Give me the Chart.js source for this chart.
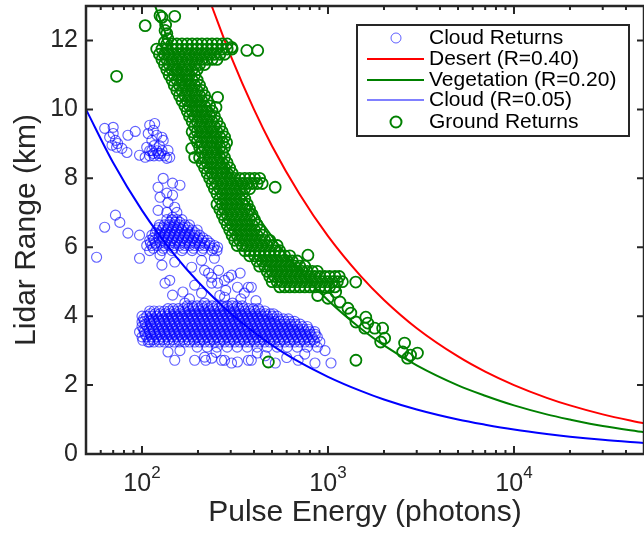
<!DOCTYPE html>
<html>
<head>
<meta charset="utf-8">
<script src="https://cdn.jsdelivr.net/npm/chart.js@4.4.0/dist/chart.umd.min.js"></script>
<style>
  body { margin: 0; background: #fff; }
</style>
</head>
<body>
<canvas id="lidarChart" width="644" height="535"></canvas>
<script>
// returns: [pulse energy (photons), lidar range (km)]
const cloudScatter = [
  // upper left group
  [63,9.45],[70,9.48],[70,9.30],[72,9.10],[67,9.19],[74,9.01],[73,8.90],[69,8.96],[84,9.25],[92,9.36],[83,8.75],[78,8.87],
  [110,9.54],[117,9.59],[115,9.39],[120,9.25],[108,9.30],[128,9.19],[130,9.10],[113,9.10],[106,8.90],[97,8.67],[138,8.81],[141,8.61],[136,8.58],[104,8.61],
  // middle group outskirts
  [130,8.0],[146,7.86],[160,7.8],[122,7.74],[136,7.57],[146,7.51],[125,7.45],[138,7.30],[150,7.16],[122,7.07],[136,7.01],[154,7.01],[146,6.87],
  [72,6.93],[76,6.72],[63,6.58],[84,6.41],[97,6.35],[57,5.71],[97,5.68],[125,5.77],[128,5.48],[150,5.57],[185,5.42],[217,5.33],[255,6.0],[245,5.68],
  // scatter above the low band
  [133,4.96],[141,5.04],[146,4.61],[166,4.70],[170,4.38],[192,4.90],[209,4.67],[237,5.13],[255,4.96],[278,5.04],[303,5.19],[326,4.84],[355,4.67],[387,4.84],[278,4.55],[217,4.38],[307,4.38],
  [209,5.62],[228,5.25],[258,5.33],[292,5.13],[337,5.25],[373,4.84],[282,4.75],[237,4.96],[180,4.5],[262,4.6],[340,4.5],[410,4.45],
  // scatter below the low band
  [220,2.72],[268,2.72],[303,2.64],[373,2.72],[521,2.64],[691,2.72],[851,2.64],[1038,2.64],[964,3.0],
  [100,3.83],[97,3.54],[101,3.30],[108,3.25],[138,2.96],[150,2.72],[192,2.72],[217,2.81],[237,2.78],[278,2.72],[326,2.67],[387,2.72],[417,2.93],
  [160,3.0],[250,2.95],[460,2.85],[600,2.8],[750,2.9]
];

// dense parts of the cloud returns, row by row: [range, energies]
const cloudRows = [
  [8.95, [116, 124]],
  [8.8, [110, 113, 120, 128]],
  [8.72, [115, 122, 126]],
  [8.65, [110, 116, 124, 132]],
  [6.8, [136, 145, 154, 164]],
  [6.72, [141, 150, 160]],
  [6.65, [124, 132, 140, 149, 159, 170, 180]],
  [6.57, [123, 130, 138, 147, 157, 167, 177]],
  [6.5, [120, 128, 136, 145, 154, 164, 175, 186, 198]],
  [6.42, [118, 125, 133, 141, 150, 160, 170, 181, 193]],
  [6.35, [113, 124, 132, 140, 149, 159, 170, 180, 192, 204]],
  [6.27, [115, 123, 130, 138, 147, 157, 167, 177, 189, 201, 213]],
  [6.2, [110, 116, 128, 136, 145, 154, 164, 175, 186, 198, 210, 224]],
  [6.12, [111, 118, 125, 133, 141, 150, 160, 170, 181, 193, 205, 218, 232]],
  [6.05, [106, 113, 120, 132, 140, 149, 159, 170, 180, 192, 204, 217, 231, 245]],
  [5.97, [115, 130, 147, 167, 189, 213, 242]],
  [5.9, [110, 128, 145, 164, 186, 210, 238, 253]],
  [4.3, [175, 186, 198, 210, 224, 238, 253, 270, 287, 305, 325, 346]],
  [4.22, [138, 147, 157, 167, 177, 189, 201, 213, 227, 242, 257, 274, 291, 310, 330, 351, 373, 397, 422]],
  [4.15, [110, 116, 124, 132, 140, 149, 159, 170, 180, 192, 204, 217, 231, 245, 262, 278, 296, 315, 335, 357, 379, 403, 429, 457]],
  [4.07, [111, 118, 125, 133, 141, 150, 160, 170, 181, 193, 205, 218, 232, 247, 263, 280, 298, 317, 337, 359, 382, 406, 432, 460, 489, 509]],
  [4.0, [100, 106, 113, 120, 128, 136, 145, 154, 164, 175, 186, 198, 210, 224, 238, 253, 270, 287, 305, 325, 346, 368, 391, 416, 443, 471, 501, 533]],
  [3.92, [102, 109, 115, 123, 130, 138, 147, 157, 167, 177, 189, 201, 213, 227, 242, 257, 274, 291, 310, 330, 351, 373, 397, 422, 449, 478, 509, 541, 576, 613]],
  [3.85, [103, 110, 116, 124, 132, 140, 149, 159, 170, 180, 192, 204, 217, 231, 245, 262, 278, 296, 315, 335, 357, 379, 403, 429, 457, 486, 517, 550, 585, 623, 662]],
  [3.77, [104, 111, 118, 125, 133, 141, 150, 160, 170, 181, 193, 205, 218, 232, 247, 263, 280, 298, 317, 337, 359, 382, 406, 432, 460, 489, 520, 553, 589, 627, 667, 709]],
  [3.7, [100, 106, 113, 120, 128, 136, 145, 154, 164, 175, 186, 198, 210, 224, 238, 253, 270, 287, 305, 325, 346, 368, 391, 416, 443, 471, 501, 533, 567, 604, 642, 683, 727, 773]],
  [3.62, [102, 109, 115, 123, 130, 138, 147, 157, 167, 177, 189, 201, 213, 227, 242, 257, 274, 291, 310, 330, 351, 373, 397, 422, 449, 478, 509, 541, 576, 613, 652, 693, 738, 785]],
  [3.55, [103, 110, 116, 124, 132, 140, 149, 159, 170, 180, 192, 204, 217, 231, 245, 262, 278, 296, 315, 335, 357, 379, 403, 429, 457, 486, 517, 550, 585, 623, 662, 705, 750, 798, 849]],
  [3.47, [104, 111, 118, 125, 133, 141, 150, 160, 170, 181, 193, 205, 218, 232, 247, 263, 280, 298, 317, 337, 359, 382, 406, 432, 460, 489, 520, 553, 589, 627, 667, 709, 755, 803, 855]],
  [3.4, [100, 106, 113, 120, 128, 136, 145, 154, 164, 175, 186, 198, 210, 224, 238, 253, 270, 287, 305, 325, 346, 368, 391, 416, 443, 471, 501, 533, 567, 604, 642, 683, 727, 773, 823, 876]],
  [3.32, [109, 115, 123, 130, 138, 147, 157, 167, 177, 189, 201, 213, 227, 242, 257, 274, 291, 310, 330, 351, 373, 397, 422, 449, 478, 509, 541, 576, 613, 652, 693, 738, 785, 835]],
  [3.25, [110, 116, 124, 132, 140, 149, 159, 170, 180, 192, 204, 217, 231, 245, 262, 278, 296, 315, 335, 357, 379, 403, 429, 457, 486, 517, 550, 585, 623, 662, 705, 750, 798, 849, 904]],
  [3.1, [198, 224, 253, 287, 325, 368, 416, 471, 533, 604, 683, 773, 876]]
];

const groundScatter = [
  // column near the top and outliers
  [104,12.43],[125,12.72],[128,12.67],[150,12.7],[133,12.29],[136,12.2],[134,12.45],[138,12.05],[132,11.95],[73,10.96],[303,11.8],[366,11.71],[419,11.71],
  [255,10.35],[250,10.06],[285,9.04],[185,8.87],[192,8.61],[520,7.74],[780,5.77],[1410,4.99],
  // tail along the vegetation curve
  [1000,4.52],[1160,4.41],[1280,4.23],[1327,4.09],[1413,3.83],[1597,3.97],[1636,3.80],[1577,3.65],[1783,3.65],[1967,3.65],[2017,3.36],[1920,3.25],
  [2581,3.22],[2520,2.96],[2677,2.78],[3027,2.93],[2780,2.87],[1413,2.72],[478,2.67],[880,4.6],[1100,4.7]
];

// dense parts of the ground returns, row by row: [range, energies]
const groundRows = [
  [11.9, [136, 145, 154, 164, 175, 186, 198, 210, 224, 238, 253, 270, 287]],
  [11.75, [120, 128, 136, 145, 154, 164, 175, 186, 198, 210, 224, 238, 253, 270, 287, 305]],
  [11.6, [124, 132, 140, 149, 159, 170, 180, 192, 204, 217, 231, 245, 262, 278]],
  [11.45, [128, 136, 145, 154, 164, 175, 186, 198, 210, 224, 238, 253]],
  [11.3, [132, 140, 149, 159, 170, 180, 192, 204, 217]],
  [11.15, [136, 145, 154, 164, 175, 186, 198]],
  [11.0, [140, 149, 159, 170, 180, 192]],
  [10.85, [145, 154, 164, 175, 186, 198]],
  [10.7, [149, 159, 170, 180, 192, 204]],
  [10.55, [154, 164, 175, 186, 198, 210]],
  [10.4, [159, 170, 180, 192, 204, 217]],
  [10.25, [164, 175, 186, 198, 210, 224]],
  [10.1, [170, 180, 192, 204, 217, 231]],
  [9.95, [175, 186, 198, 210, 224, 238]],
  [9.8, [180, 192, 204, 217, 231, 245]],
  [9.65, [186, 198, 210, 224, 238, 253]],
  [9.5, [192, 204, 217, 231, 245, 262]],
  [9.35, [186, 198, 210, 224, 238, 253, 270]],
  [9.2, [192, 204, 217, 231, 245, 262, 278]],
  [9.05, [198, 210, 224, 238, 253, 270]],
  [8.9, [204, 217, 231, 245, 262, 278]],
  [8.75, [210, 224, 238, 253, 270]],
  [8.6, [204, 217, 231, 245, 262, 278]],
  [8.45, [210, 224, 238, 253, 270, 287]],
  [8.3, [217, 231, 245, 262, 278, 296]],
  [8.15, [224, 238, 253, 270, 287, 305]],
  [8.0, [231, 245, 262, 278, 296, 315, 335, 357, 379, 403, 429]],
  [7.85, [238, 253, 270, 287, 305, 325, 346, 368, 391, 416, 443]],
  [7.7, [245, 262, 278, 296, 315, 335, 357, 379]],
  [7.55, [253, 270, 287, 305, 325, 346]],
  [7.4, [262, 278, 296, 315, 335, 357]],
  [7.25, [253, 270, 287, 305, 325, 346, 368]],
  [7.1, [262, 278, 296, 315, 335, 357, 379]],
  [6.95, [270, 287, 305, 325, 346, 368, 391]],
  [6.8, [278, 296, 315, 335, 357, 379, 403]],
  [6.65, [287, 305, 325, 346, 368, 391, 416]],
  [6.5, [296, 315, 335, 357, 379, 403, 429]],
  [6.35, [305, 325, 346, 368, 391, 416, 443]],
  [6.2, [315, 335, 357, 379, 403, 429, 457, 486]],
  [6.05, [325, 346, 368, 391, 416, 443, 471, 501, 533]],
  [5.9, [357, 379, 403, 429, 457, 486, 517, 550]],
  [5.75, [379, 403, 429, 457, 486, 517, 550, 585, 623]],
  [5.6, [416, 443, 471, 501, 533, 567, 604, 642, 683]],
  [5.45, [429, 457, 486, 517, 550, 585, 623, 662, 705, 750]],
  [5.3, [471, 501, 533, 567, 604, 642, 683, 727, 773, 823, 876]],
  [5.15, [486, 517, 550, 585, 623, 662, 705, 750, 798, 849, 904, 962, 1020, 1090, 1150]],
  [5.0, [501, 533, 567, 604, 642, 683, 727, 773, 823, 876, 932, 992, 1055, 1123, 1195]],
  [4.85, [550, 585, 623, 662, 705, 750, 798, 849, 904, 962, 1020, 1090]]
];

// model curves
const desertEnergy = [237, 300, 400, 500, 700, 1000, 1500, 2000, 3000, 5000, 7000, 10000, 15000, 20000, 30000, 50000];
const desertRange = [13.0, 11.55, 10.0, 8.94, 7.56, 6.32, 5.16, 4.47, 3.65, 2.83, 2.39, 2.0, 1.63, 1.41, 1.15, 0.89];
const vegEnergy = [118, 150, 200, 300, 400, 500, 700, 1000, 1500, 2000, 3000, 5000, 7000, 10000, 15000, 20000, 30000, 50000];
const vegRange = [12.98, 11.51, 9.97, 8.14, 7.05, 6.31, 5.33, 4.46, 3.64, 3.15, 2.57, 1.99, 1.69, 1.41, 1.15, 1.0, 0.81, 0.63];
const cloudEnergy = [50, 70, 100, 150, 200, 300, 500, 700, 1000, 1500, 2000, 3000, 5000, 7000, 10000, 15000, 20000, 30000, 50000];
const cloudRange = [10.0, 8.45, 7.07, 5.77, 5.0, 4.08, 3.16, 2.67, 2.24, 1.83, 1.58, 1.29, 1.0, 0.85, 0.71, 0.58, 0.5, 0.41, 0.32];

const yTicks = [0, 2, 4, 6, 8, 10, 12];
const xMajor = [100, 1000, 10000];
const xExp = ['2', '3', '4'];
const xMinor = [60, 70, 80, 90, 200, 300, 400, 500, 600, 700, 800, 900,
  2000, 3000, 4000, 5000, 6000, 7000, 8000, 9000, 20000, 30000, 40000];

const legendNames = ['Cloud Returns', 'Desert (R=0.40)', 'Vegetation (R=0.20)', 'Cloud (R=0.05)', 'Ground Returns'];

const FONT = '"Liberation Sans", Arial, Helvetica, sans-serif';
const AXIS = '#262626';
const CLOUD_MARK = 'rgba(0,0,255,0.62)';
const toXY = (xs, ys) => xs.map((e, i) => ({ x: e, y: ys[i] }));
const pairs = arr => arr.map(p => ({ x: p[0], y: p[1] }));
const fromRows = rows => rows.flatMap(([r, es]) => es.map(e => ({ x: e, y: r })));

// matlab style box, inward ticks, x labels with exponents, legend
const decorations = {
  id: 'decorations',
  afterDraw(chart) {
    const { ctx, chartArea: a, scales: { x, y } } = chart;
    ctx.save();
    ctx.strokeStyle = AXIS;
    ctx.lineWidth = 2;
    ctx.beginPath();
    xMajor.forEach(v => {
      const px = x.getPixelForValue(v);
      ctx.moveTo(px, a.bottom); ctx.lineTo(px, a.bottom - 8);
      ctx.moveTo(px, a.top); ctx.lineTo(px, a.top + 8);
    });
    xMinor.forEach(v => {
      const px = x.getPixelForValue(v);
      ctx.moveTo(px, a.bottom); ctx.lineTo(px, a.bottom - 4);
      ctx.moveTo(px, a.top); ctx.lineTo(px, a.top + 4);
    });
    yTicks.forEach(v => {
      const py = y.getPixelForValue(v);
      ctx.moveTo(a.left, py); ctx.lineTo(a.left + 7, py);
      ctx.moveTo(a.right, py); ctx.lineTo(a.right - 7, py);
    });
    ctx.stroke();
    ctx.lineWidth = 2.5;
    ctx.strokeRect(a.left, a.top, a.right - a.left, a.bottom - a.top);

    ctx.fillStyle = AXIS;
    ctx.textBaseline = 'alphabetic';
    xMajor.forEach((v, i) => {
      const px = x.getPixelForValue(v);
      ctx.font = '25px ' + FONT;
      const w1 = ctx.measureText('10').width;
      ctx.font = '17px ' + FONT;
      const w2 = ctx.measureText(xExp[i]).width;
      const x0 = px - (w1 + w2) / 2;
      ctx.font = '25px ' + FONT;
      ctx.fillText('10', x0, 491);
      ctx.font = '17px ' + FONT;
      ctx.fillText(xExp[i], x0 + w1, 478);
    });

    // legend
    const lx = 357, ly = 25, lw = 272, lh = 111;
    ctx.fillStyle = '#fff';
    ctx.fillRect(lx, ly, lw, lh);
    ctx.lineWidth = 2;
    ctx.strokeStyle = AXIS;
    ctx.strokeRect(lx, ly, lw, lh);
    const rows = [38, 59, 80, 100, 122];
    const lineColors = [null, '#ff0000', '#008000', '#8080ff', null];
    rows.forEach((ry, i) => {
      if (i === 0) {
        ctx.strokeStyle = CLOUD_MARK;
        ctx.lineWidth = 1;
        ctx.beginPath(); ctx.arc(396, ry, 5, 0, Math.PI * 2); ctx.stroke();
      } else if (i === 4) {
        ctx.strokeStyle = '#008000';
        ctx.lineWidth = 2;
        ctx.beginPath(); ctx.arc(396, ry, 5.5, 0, Math.PI * 2); ctx.stroke();
      } else {
        ctx.strokeStyle = lineColors[i];
        ctx.lineWidth = 2;
        ctx.beginPath(); ctx.moveTo(367, ry); ctx.lineTo(424, ry); ctx.stroke();
      }
      ctx.fillStyle = '#000';
      ctx.font = '21px ' + FONT;
      ctx.textBaseline = 'middle';
      ctx.fillText(legendNames[i], 429, ry);
    });
    ctx.restore();
  }
};

new Chart(document.getElementById('lidarChart'), {
  type: 'scatter',
  data: {
    datasets: [
      {
        label: legendNames[4], data: pairs(groundScatter).concat(fromRows(groundRows)), order: 0,
        pointStyle: 'circle', pointRadius: 5.5, pointBorderWidth: 1.8,
        pointBorderColor: '#008000', pointBackgroundColor: 'rgba(0,0,0,0)'
      },
      {
        label: legendNames[1], type: 'line', data: toXY(desertEnergy, desertRange), order: 1,
        showLine: true, borderColor: '#ff0000', borderWidth: 2, pointRadius: 0, cubicInterpolationMode: 'monotone'
      },
      {
        label: legendNames[2], type: 'line', data: toXY(vegEnergy, vegRange), order: 1,
        showLine: true, borderColor: '#008000', borderWidth: 2, pointRadius: 0, cubicInterpolationMode: 'monotone'
      },
      {
        label: legendNames[3], type: 'line', data: toXY(cloudEnergy, cloudRange), order: 1,
        showLine: true, borderColor: '#0000ff', borderWidth: 2, pointRadius: 0, cubicInterpolationMode: 'monotone'
      },
      {
        label: legendNames[0], data: pairs(cloudScatter).concat(fromRows(cloudRows)), order: 2,
        pointStyle: 'circle', pointRadius: 5, pointBorderWidth: 1.15,
        pointBorderColor: CLOUD_MARK, pointBackgroundColor: 'rgba(0,0,0,0)'
      }
    ]
  },
  options: {
    responsive: false,
    animation: false,
    events: [],
    layout: { autoPadding: false, padding: { top: 6, right: -2, bottom: 0, left: 0 } },
    plugins: { legend: { display: false }, tooltip: { enabled: false } },
    scales: {
      x: {
        type: 'logarithmic', min: 50, max: 50000,
        grid: { display: false }, border: { display: false },
        ticks: { display: false },
        title: { display: true, text: 'Pulse Energy (photons)', color: AXIS, font: { family: FONT, size: 30 }, padding: { top: 0, bottom: 4 } },
        afterFit: s => { s.height = 81; s.paddingLeft = 0; s.paddingRight = 0; }
      },
      y: {
        min: 0, max: 13,
        grid: { display: false, drawTicks: false }, border: { display: false },
        afterBuildTicks: s => { s.ticks = yTicks.map(v => ({ value: v })); },
        ticks: { color: AXIS, padding: 8, font: { family: FONT, size: 25 } },
        title: { display: true, text: 'Lidar Range (km)', color: AXIS, font: { family: FONT, size: 30 }, padding: { top: 9, bottom: 0 } },
        afterFit: s => { s.width = 86; s.paddingTop = 0; s.paddingBottom = 0; }
      }
    }
  },
  plugins: [decorations]
});
</script>
</body>
</html>
